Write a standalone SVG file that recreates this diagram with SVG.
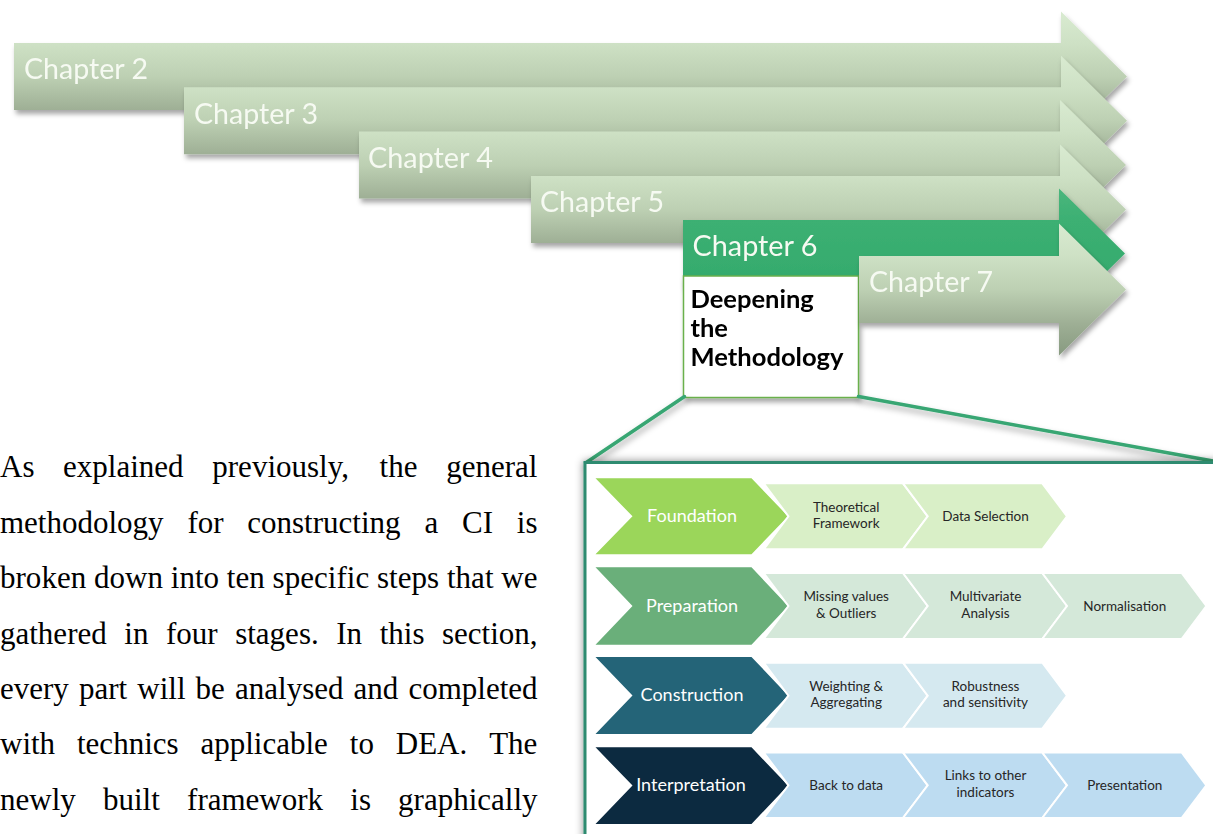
<svg xmlns="http://www.w3.org/2000/svg" width="1213" height="834" viewBox="0 0 1213 834">
<defs>
  <linearGradient id="gArrow" x1="0" y1="0" x2="0" y2="1">
    <stop offset="0" stop-color="#d9ebd1"/>
    <stop offset="0.242" stop-color="#cee1c5"/>
    <stop offset="0.5" stop-color="#bdd0b3"/>
    <stop offset="0.758" stop-color="#9eaf95"/>
    <stop offset="1" stop-color="#879a80"/>
  </linearGradient>
  <linearGradient id="gGreen" x1="0" y1="0" x2="0" y2="1">
    <stop offset="0" stop-color="#4bb67d"/>
    <stop offset="0.242" stop-color="#3cb073"/>
    <stop offset="0.758" stop-color="#34aa6c"/>
    <stop offset="1" stop-color="#279c5f"/>
  </linearGradient>
  <filter id="shadow" x="-10%" y="-20%" width="120%" height="150%">
    <feDropShadow dx="2" dy="4" stdDeviation="2.5" flood-color="#000" flood-opacity="0.35"/>
  </filter>
  <filter id="glow" x="-10%" y="-10%" width="120%" height="120%">
    <feDropShadow dx="0" dy="0" stdDeviation="4" flood-color="#000" flood-opacity="0.45"/>
  </filter>
  <filter id="lineShadow" x="-5%" y="-50%" width="110%" height="200%">
    <feDropShadow dx="1" dy="4" stdDeviation="3" flood-color="#000" flood-opacity="0.35"/>
  </filter>
  <style>
    .ch { fill: url(#gArrow); }
    .chl { font-family: Lato, "Liberation Sans", sans-serif; font-size: 29px; fill: #f6faf2; }
    .deep { font-family: Lato, "Liberation Sans", sans-serif; font-size: 25.5px; font-weight: bold; fill: #000; }
    .para { font-family: "Liberation Serif", "Times New Roman", serif; font-size: 31px; fill: #000; }
    .stage { font-family: Lato, "Liberation Sans", sans-serif; font-size: 18px; fill: #fff; text-anchor: middle; }
    .sub { font-family: Lato, "Liberation Sans", sans-serif; font-size: 13.5px; fill: #262626; text-anchor: middle; }
    .subshape { stroke: #ffffff; stroke-width: 2; }
    .conn { stroke: #38a673; stroke-width: 3.5; fill: none; stroke-linecap: round; }
  </style>
</defs>

<rect width="1213" height="834" fill="#ffffff"/>

<!-- Chapter arrows -->
<g id="ch2" filter="url(#shadow)">
  <path class="ch" d="M14 43 H1061 V11.5 L1127 76.5 L1061 141.5 V110 H14 Z"/>
  <text class="chl" x="24" y="79.3" textLength="124" lengthAdjust="spacingAndGlyphs">Chapter 2</text>
</g>
<g id="ch3" filter="url(#shadow)">
  <path class="ch" d="M184 87.3 H1061 V55.8 L1127 120.8 L1061 185.8 V154.3 H184 Z"/>
  <text class="chl" x="194" y="123.6" textLength="124" lengthAdjust="spacingAndGlyphs">Chapter 3</text>
</g>
<g id="ch4" filter="url(#shadow)">
  <path class="ch" d="M359 131.5 H1060 V100 L1126 165 L1060 230 V198.5 H359 Z"/>
  <text class="chl" x="368" y="167.8" textLength="125" lengthAdjust="spacingAndGlyphs">Chapter 4</text>
</g>
<g id="ch5" filter="url(#shadow)">
  <path class="ch" d="M531 176 H1060 V144.5 L1126 209.5 L1060 274.5 V243 H531 Z"/>
  <text class="chl" x="540" y="212.3" textLength="124" lengthAdjust="spacingAndGlyphs">Chapter 5</text>
</g>
<g id="ch6" filter="url(#shadow)">
  <path fill="url(#gGreen)" d="M683 220 H1059 V188.5 L1125 253.5 L1059 318.5 V287 H683 Z"/>
  <text class="chl" x="692.5" y="255.5" textLength="125" lengthAdjust="spacingAndGlyphs">Chapter 6</text>
</g>
<g id="box-deepening" filter="url(#shadow)">
  <rect x="683.5" y="276" width="175" height="121.5" fill="#ffffff" stroke="#6ab04c" stroke-width="1.5"/>
  <text class="deep" x="690.5" y="308">Deepening</text>
  <text class="deep" x="690.5" y="337">the</text>
  <text class="deep" x="690.5" y="366" textLength="153" lengthAdjust="spacingAndGlyphs">Methodology</text>
</g>
<g id="ch7" filter="url(#shadow)">
  <path class="ch" d="M859 256 H1059 V223.5 L1126 289.5 L1059 355.5 V323 H859 Z"/>
  <text class="chl" x="869" y="292.3" textLength="124" lengthAdjust="spacingAndGlyphs">Chapter 7</text>
</g>

<!-- Connectors -->
<g id="connectors" filter="url(#lineShadow)">
  <line class="conn" x1="684.5" y1="396.5" x2="585.5" y2="463"/>
  <line class="conn" x1="858.5" y1="396.5" x2="1213" y2="461"/>
</g>

<!-- Panel -->
<g id="panel">
  <rect x="585" y="462.5" width="660" height="420" fill="#ffffff" stroke="#2d8b6f" stroke-width="3" filter="url(#glow)"/>
</g>

<!-- Row 1: Foundation -->
<g id="row-foundation">
  <path fill="#9bd65a" d="M595.5 478.3 H751.5 L788 516.3 L751.5 554.3 H595.5 L632.5 516.3 Z"/>
  <text class="stage" x="692" y="521.8">Foundation</text>
</g>
<g id="step-theoretical">
  <path class="subshape" fill="#d9efc7" d="M763.7 483.3 H903 L927.7 516.3 L903 549.3 H763.7 L788.4 516.3 Z"/>
  <text class="sub" x="846.2" y="511.7">Theoretical</text>
  <text class="sub" x="846.2" y="528.3">Framework</text>
</g>
<g id="step-data-selection">
  <path class="subshape" fill="#d9efc7" d="M903 483.3 H1042.3 L1067 516.3 L1042.3 549.3 H903 L927.7 516.3 Z"/>
  <text class="sub" x="985.5" y="520.8">Data Selection</text>
</g>

<!-- Row 2: Preparation -->
<g id="row-preparation">
  <path fill="#6aaf7a" d="M595.5 567.3 H751.5 L788 606 L751.5 644.8 H595.5 L632.5 606 Z"/>
  <text class="stage" x="692" y="611.5">Preparation</text>
</g>
<g id="step-missing">
  <path class="subshape" fill="#d4e8d9" d="M763.7 573 H903 L927.7 606 L903 639 H763.7 L788.4 606 Z"/>
  <text class="sub" x="846.2" y="600.8">Missing values</text>
  <text class="sub" x="846.2" y="617.6">&amp; Outliers</text>
</g>
<g id="step-multivariate">
  <path class="subshape" fill="#d4e8d9" d="M903 573 H1042.3 L1067 606 L1042.3 639 H903 L927.7 606 Z"/>
  <text class="sub" x="985.5" y="600.8">Multivariate</text>
  <text class="sub" x="985.5" y="617.6">Analysis</text>
</g>
<g id="step-normalisation">
  <path class="subshape" fill="#d4e8d9" d="M1042.3 573 H1181.6 L1206.3 606 L1181.6 639 H1042.3 L1067 606 Z"/>
  <text class="sub" x="1124.8" y="610.5">Normalisation</text>
</g>

<!-- Row 3: Construction -->
<g id="row-construction">
  <path fill="#246478" d="M595.5 656.9 H751.5 L788 695.5 L751.5 734 H595.5 L632.5 695.5 Z"/>
  <text class="stage" x="692" y="701">Construction</text>
</g>
<g id="step-weighting">
  <path class="subshape" fill="#d5e9f0" d="M763.7 662.7 H903 L927.7 695.7 L903 728.7 H763.7 L788.4 695.7 Z"/>
  <text class="sub" x="846.2" y="690.7">Weighting &amp;</text>
  <text class="sub" x="846.2" y="707">Aggregating</text>
</g>
<g id="step-robustness">
  <path class="subshape" fill="#d5e9f0" d="M903 662.7 H1042.3 L1067 695.7 L1042.3 728.7 H903 L927.7 695.7 Z"/>
  <text class="sub" x="985.5" y="690.7">Robustness</text>
  <text class="sub" x="985.5" y="707">and sensitivity</text>
</g>

<!-- Row 4: Interpretation -->
<g id="row-interpretation">
  <path fill="#0c2a40" d="M595.5 747.3 H751.5 L788 785.6 L751.5 824 H595.5 L632.5 785.6 Z"/>
  <text class="stage" x="691" y="791">Interpretation</text>
</g>
<g id="step-back">
  <path class="subshape" fill="#bddcf1" d="M763.7 752.5 H903 L927.7 785.3 L903 818 H763.7 L788.4 785.3 Z"/>
  <text class="sub" x="846.2" y="790">Back to data</text>
</g>
<g id="step-links">
  <path class="subshape" fill="#bddcf1" d="M903 752.5 H1042.3 L1067 785.3 L1042.3 818 H903 L927.7 785.3 Z"/>
  <text class="sub" x="985.5" y="780">Links to other</text>
  <text class="sub" x="985.5" y="796.6">indicators</text>
</g>
<g id="step-presentation">
  <path class="subshape" fill="#bddcf1" d="M1042.3 752.5 H1181.6 L1206.3 785.3 L1181.6 818 H1042.3 L1067 785.3 Z"/>
  <text class="sub" x="1124.8" y="790">Presentation</text>
</g>

<!-- Paragraph -->
<g id="paragraph">
  <text class="para" y="477.3"><tspan x="0">As</tspan><tspan x="63.1">explained</tspan><tspan x="212.3">previously,</tspan><tspan x="379.6">the</tspan><tspan x="446.2">general</tspan></text>
  <text class="para" y="532.8"><tspan x="0">methodology</tspan><tspan x="187.4">for</tspan><tspan x="247.3">constructing</tspan><tspan x="424.4">a</tspan><tspan x="462">CI</tspan><tspan x="516.8">is</tspan></text>
  <text class="para" x="0" y="588.2" textLength="537.5" lengthAdjust="spacing">broken down into ten specific steps that we</text>
  <text class="para" y="643.5"><tspan x="0">gathered</tspan><tspan x="124.3">in</tspan><tspan x="166">four</tspan><tspan x="235.2">stages.</tspan><tspan x="336.3">In</tspan><tspan x="379.7">this</tspan><tspan x="442">section,</tspan></text>
  <text class="para" y="698.8"><tspan x="0">every</tspan><tspan x="79">part</tspan><tspan x="137.3">will</tspan><tspan x="195.6">be</tspan><tspan x="235">analysed</tspan><tspan x="353.6">and</tspan><tspan x="408.5">completed</tspan></text>
  <text class="para" y="754.2"><tspan x="0">with</tspan><tspan x="77">technics</tspan><tspan x="200.5">applicable</tspan><tspan x="349.8">to</tspan><tspan x="395.8">DEA.</tspan><tspan x="489.2">The</tspan></text>
  <text class="para" y="809.5"><tspan x="0">newly</tspan><tspan x="103">built</tspan><tspan x="187.1">framework</tspan><tspan x="350.3">is</tspan><tspan x="398.1">graphically</tspan></text>
</g>
</svg>
